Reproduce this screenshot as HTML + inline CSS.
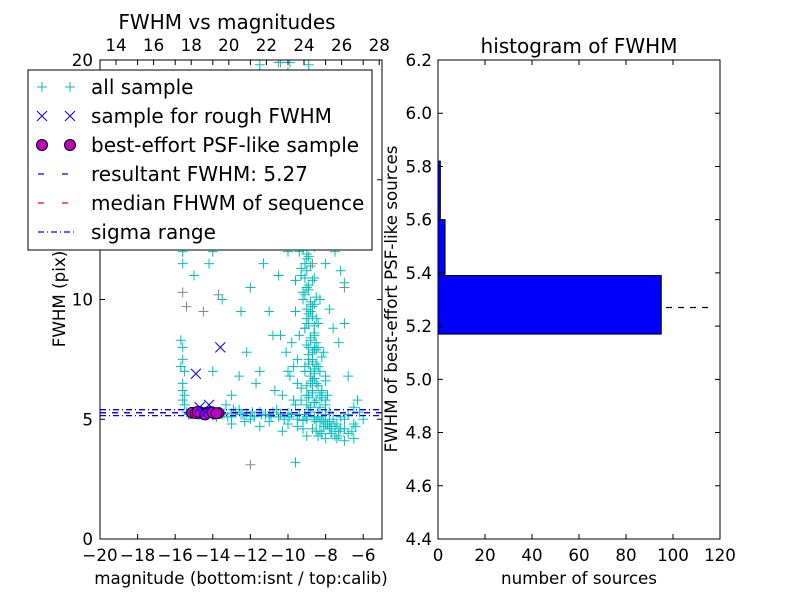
<!DOCTYPE html>
<html><head><meta charset="utf-8"><style>
body{margin:0;background:#fff;width:800px;height:600px;overflow:hidden}
text{font-family:"DejaVu Sans","Liberation Sans",sans-serif;fill:#000}
</style></head><body>
<svg id="c" width="800" height="600">
<rect x="0" y="0" width="800" height="600" fill="#fff"/>
<g id="left"></g>
<g id="right"></g>
</svg>
<script>
// ---- data: left scatter ----
const allMag=[-13.5,-13,-12.5,-12,-11.5,-11,-10.5,-10,-9.5,-9,-8.5,-8,-7.5,-7,-6.5,-13.2,-12.8,-12.2,-11.8,-11.2,-10.8,-10.2,-9.8,-9.2,-8.8,-8.2,-7.8,-7.2,-6.8,-6.2,-10,-11,-12,-9.5,-8.7,-8.3,-7.7,-9,-10.6,-12.6,-14,-14.5,-15,-15.3,-13.8,-9.6,-8.6,-7.4,-6.6,-6,
-9,-8.8,-9.1,-8.7,-8.9,-8.6,-9,-8.8,-9.2,-9,-9.3,-9.1,-9.4,-9.2,-9.5,-9.3,-9.4,-9.6,-9.7,-8.5,-8.2,-8,-8.4,-8.1,-8.3,-7.9,-8.6,-9.3,-9.5,-9.4,-8.5,-8.3,-8.7,-8.9,-8.6,-9.6,-9.8,-10,-10.3,-9.7,-8.9,-9.1,-8.8,-9,-8.7,-9.2,-8.9,-9.0,-8.6,-9.1,
-15.6,-15.6,-15.5,-15.6,-15.6,-15.7,-15.6,-15.5,-15.6,-15.6,-15.5,-15.6,-15.7,-15.5,
-15,-14.6,-14.2,-14,-13.5,-12.5,-12,-11.3,-11,-10.8,-10.5,-12.2,-11.5,-10.7,-13,-14,-12.6,-11.7,-7.3,-7,-6.8,-6.5,-7.5,-7,-7.8,-8,-10.2,-12.3,-11,-14.5,-15.3,-9.7,-9.5,-8.6,-10,-11.5,-9.9,-10.4,-8.9,-9.6,-6.3,-7.2,-9.6,-8.0,-13.3,-12.9];
const allFwhm=[5.2,5.25,5.2,5.15,5.3,5.2,5.1,5.25,5.0,5.1,4.9,4.8,4.7,4.6,4.8,5.1,5.3,5.25,5.1,5.15,5.3,5.0,5.2,4.95,5.3,5.0,4.9,5.1,5.2,5.3,4.8,4.9,5.0,4.7,4.6,4.5,4.4,4.3,5.4,5.4,5.2,5.3,5.25,5.2,5.1,5.6,5.7,4.2,4.5,5.0,
6,6.5,7,7.5,8,8.5,9,9.5,10,10.5,11,11.5,12,12.5,13,13.5,14,15,16,5.8,6.2,6.8,7.2,7.8,5.5,6,6.9,6.3,7.5,8.5,9.2,10,10.8,11.8,12.2,9.5,8.2,7,6,5.8,7.3,8.8,9.8,11.2,6.6,13.0,14.5,5.6,8.0,10.2,
6.2,6.5,7,7.5,8,8.3,5.8,5.6,11.5,12,13,12.5,7.2,6.0,
11,12.8,11.5,12,10,9.5,10.5,11.5,9.5,8.5,11,7.8,7,6.2,6,7,6.8,6.5,8.2,9,6.8,5.5,12,10.7,13,14.5,13.5,14.5,15,15,16,17,18.2,19,19.5,19.8,19.9,19.9,19.8,17.5,5.8,11.2,3.2,4.2,5.6,5.4];
const plumeMag=[-8.9,-8.7,-9.0,-8.6,-8.8,-9.1,-8.7,-8.9,-8.5,-9.0,-8.8,-8.6,-9.1,-8.9,-8.7,-9.0,-8.8,-9.2,-8.9,-9.1,-9.3,-9.0,-9.2,-9.4,-9.3,-9.5,-9.6,-9.4,-9.8,-9.5,-8.4,-8.3,-8.2,-8.5,-8.4,-8.6,-8.2,-8.0,-7.8,-7.6,-7.4,-7.2,-7.5,-7.7,-8.1,-8.4,-9.3,-9.5,-9.7,-9.9,-10.1,-10.4,-9.6,-10,-10.5,-9.9,-10.2,-9.7,-9.3,-8.7,-8.3,-8.0,-7.8,-7.6,
-15.4,-15.2,-14.0,-13.6,-13.4,-13.0,-12.4,-11.9,-11.4,-10.9,-10.4,-9.9,-9.4,-9.0,-8.6,-8.0,-7.0,-6.4,-6.8,-7.3,-7.0,-6.5,-8.4,-9.2,-10.3,-11.5,-12.3,-13,
-8.8,-8.6,-8.9,-8.7,-8.5,-8.8,-8.6,-8.9,-8.7,-8.4,-8.8,-8.6,-9.0,-8.7,-8.5,-8.9,-8.6,-8.3,-8.8,-9.0,-8.7,-8.5,-8.9,-9.1,-8.6,-8.4,-8.2,-8.0,-8.3,-7.9,-7.7,-8.1,-8.5,-8.2,-7.8,-7.5,-7.3,-8.0,-8.6,-8.9];
const plumeFwhm=[5.9,6.1,6.4,6.7,7.0,7.2,7.4,7.7,7.9,8.1,8.3,8.6,8.8,9.0,9.3,9.6,9.9,10.3,10.6,10.9,11.3,11.7,12.1,12.8,13.2,13.8,14.3,15.2,16.5,17.8,6.4,7.0,7.6,8.2,9.0,9.8,5.9,5.6,5.3,5.0,4.8,4.6,4.5,4.7,4.9,5.1,5.8,6.5,7.2,6.8,7.8,8.5,10.8,12,13,14.8,16,18.6,19.3,14,12.8,11.5,9.6,8.8,
5.3,5.2,5.15,5.3,5.25,5.1,5.2,5.3,5.2,5.1,5.2,5.1,5.2,5.0,5.1,5.2,5.0,4.7,4.4,4.3,4.1,4.2,4.3,4.6,4.5,4.7,4.9,4.8,
5.5,5.7,6.0,6.2,6.5,6.8,7.1,7.5,7.8,8.0,8.4,8.9,9.2,9.7,10.1,10.4,10.9,6.0,11.4,11.9,12.4,7.3,5.4,5.2,5.0,5.3,6.1,5.8,4.9,4.8,4.6,4.7,4.5,4.4,4.6,4.3,4.5,6.6,7.9,9.4];
const grayMag=[-12,-15.6,-15.4,-14.5,-8.7,-10.5,-7,-14.8,-13.7,-9.9];
const grayFwhm=[3.1,10.3,9.7,9.5,11.5,19.9,10.5,5.3,10.2,12.6];
const roughMag=[-14.9,-13.6,-14.7,-14.2,-14.5];
const roughFwhm=[6.9,8.0,5.5,5.6,5.2];
const bestMag=[-15.1,-14.9,-14.7,-14.5,-14.3,-14.1,-13.9,-13.7,-14.8,-14.4,-14.0,-13.8];
const bestFwhm=[5.27,5.25,5.3,5.22,5.28,5.3,5.24,5.26,5.31,5.2,5.28,5.25];
const resultFwhm=5.27, medianFwhm=5.27, sigmaLo=5.15, sigmaHi=5.4;
const xTicksBottom=[-20,-18,-16,-14,-12,-10,-8,-6];
const xTicksTop=[14,16,18,20,22,24,26,28];
const yTicksLeft=[0,5,10,15,20];
// ---- data: right histogram ----
const binEdges=[5.17,5.39,5.6,5.82];
const binCounts=[95,3,1];
const lineExtent=115;
const xTicksRight=[0,20,40,60,80,100,120];
const yTicksRight=[4.4,4.6,4.8,5.0,5.2,5.4,5.6,5.8,6.0,6.2];

const NS='http://www.w3.org/2000/svg';
const FS=16.7, FT=20;
function mk(p,t,a,txt){const e=document.createElementNS(NS,t);for(const k in a)e.setAttribute(k,a[k]);if(txt!==undefined)e.textContent=txt;p.appendChild(e);return e;}
const L=document.getElementById('left'),R=document.getElementById('right');
const lx0=100,lx1=382,ly0=60,ly1=539;
const xs=m=>lx0+(m+20)/15*(lx1-lx0);
const xt=v=>116+(v-14)*18.8;
const ys=f=>ly1-f/20*(ly1-ly0);
const cp=mk(L,'clipPath',{id:'clipL'});
mk(cp,'rect',{x:lx0,y:ly0,width:lx1-lx0,height:ly1-ly0});
const pl=mk(L,'g',{'clip-path':'url(#clipL)'});


function plus(g,x,y,c){mk(g,'path',{d:'M'+(x-5)+','+y+'h10M'+x+','+(y-5)+'v10',stroke:c,'stroke-width':1});}
function cross(g,x,y,c){mk(g,'path',{d:'M'+(x-5)+','+(y-5)+'l10,10M'+(x-5)+','+(y+5)+'l10,-10',stroke:c,'stroke-width':1});}
grayMag.forEach((m,i)=>{const g=mk(pl,'g',{});


plus(g,xs(m),ys(grayFwhm[i]),'#888');});
allMag.forEach((m,i)=>{const g=mk(pl,'g',{});


plus(g,xs(m),ys(allFwhm[i]),'#00bfbf');});
plumeMag.forEach((m,i)=>{const g=mk(pl,'g',{});


plus(g,xs(m),ys(plumeFwhm[i]),'#00bfbf');});
function hline(f,c,dash,name){const l=mk(pl,'line',{x1:lx0,x2:lx1,y1:ys(f),y2:ys(f),stroke:c,'stroke-width':1.3,'stroke-dasharray':dash});

}
hline(sigmaLo,'#0000ff','6,3,1,3','sigma-low-line');
hline(sigmaHi,'#0000ff','6,3,1,3','sigma-high-line');
hline(medianFwhm,'#ff0000','6,6','median-line');
hline(resultFwhm,'#0000ff','6,6','resultant-line');
bestMag.forEach((m,i)=>{const c=mk(pl,'circle',{cx:xs(m),cy:ys(bestFwhm[i]),r:5.5,fill:'#bf00bf',stroke:'#000','stroke-width':0.8});

});
roughMag.forEach((m,i)=>{const g=mk(pl,'g',{});


cross(g,xs(m),ys(roughFwhm[i]),'#0000ff');});
const fr=mk(L,'rect',{x:lx0,y:ly0,width:lx1-lx0,height:ly1-ly0,fill:'none',stroke:'#000','stroke-width':1});


xTicksBottom.forEach(v=>{const x=xs(v);mk(L,'path',{d:'M'+x+','+ly1+'v-5M'+x+','+ly0+'v5',stroke:'#000'});
const t=mk(L,'text',{x:x,y:ly1+22,'text-anchor':'middle','font-size':FS},'\u2212'+Math.abs(v));

});
xTicksTop.forEach(v=>{const x=xt(v);mk(L,'path',{d:'M'+x+','+ly0+'v5',stroke:'#000'});
const t=mk(L,'text',{x:x,y:ly0-9,'text-anchor':'middle','font-size':FS},v);

});
yTicksLeft.forEach(v=>{const y=ys(v);mk(L,'path',{d:'M'+lx0+','+y+'h5M'+lx1+','+y+'h-5',stroke:'#000'});
const t=mk(L,'text',{x:lx0-7,y:y+6,'text-anchor':'end','font-size':FS},v);

});
const lg=mk(L,'g',{});


mk(lg,'rect',{x:28,y:70,width:344,height:180,fill:'#fff',stroke:'#000','stroke-width':1});
const labels=['all sample','sample for rough FWHM','best-effort PSF-like sample','resultant FWHM: 5.27','median FHWM of sequence','sigma range'];
labels.forEach((s,i)=>{const y=87+i*29;const g=mk(lg,'g',{});


 if(i==0){plus(g,42,y,'#00bfbf');plus(g,70,y,'#00bfbf');}
 if(i==1){cross(g,42,y,'#0000ff');cross(g,70,y,'#0000ff');}
 if(i==2){[42,70].forEach(x=>mk(g,'circle',{cx:x,cy:y,r:5.5,fill:'#bf00bf',stroke:'#000'}));}
 if(i==3)mk(g,'line',{x1:38,x2:74,y1:y,y2:y,stroke:'#0000ff','stroke-dasharray':'6,18','stroke-width':1.3});
 if(i==4)mk(g,'line',{x1:38,x2:74,y1:y,y2:y,stroke:'#ff0000','stroke-dasharray':'6,18','stroke-width':1.3});
 if(i==5)mk(g,'line',{x1:38,x2:74,y1:y,y2:y,stroke:'#0000ff','stroke-dasharray':'6,3,1,3','stroke-width':1.3});
 mk(g,'text',{x:91,y:y+7,'font-size':FT},s);});
let t=mk(L,'text',{x:227,y:29,'text-anchor':'middle','font-size':FT},'FWHM vs magnitudes');


t=mk(L,'text',{x:241,y:584,'text-anchor':'middle','font-size':FS},'magnitude (bottom:isnt / top:calib)');


t=mk(L,'text',{x:0,y:0,'text-anchor':'middle','font-size':FS,transform:'translate(65,299) rotate(-90)'},'FWHM (pix)');


const rx0=438,rx1=720,ry0=60,ry1=539;
const hx=v=>rx0+v/120*(rx1-rx0);
const hy=v=>ry1-(v-4.4)/1.8*(ry1-ry0);
const dl=mk(R,'line',{x1:rx0,x2:hx(lineExtent),y1:hy(resultFwhm),y2:hy(resultFwhm),stroke:'#000','stroke-dasharray':'6,6','stroke-width':1.2});


binCounts.forEach((c,i)=>{const r=mk(R,'rect',{x:rx0,y:hy(binEdges[i+1]),width:hx(c)-rx0,height:hy(binEdges[i])-hy(binEdges[i+1]),fill:'#0000ff',stroke:'#000','stroke-width':1});

});
const fr2=mk(R,'rect',{x:rx0,y:ry0,width:rx1-rx0,height:ry1-ry0,fill:'none',stroke:'#000'});


xTicksRight.forEach(v=>{const x=hx(v);mk(R,'path',{d:'M'+x+','+ry1+'v-5M'+x+','+ry0+'v5',stroke:'#000'});
const t=mk(R,'text',{x:x,y:ry1+22,'text-anchor':'middle','font-size':FS},v);

});
yTicksRight.forEach(v=>{const y=hy(v);mk(R,'path',{d:'M'+rx0+','+y+'h5M'+rx1+','+y+'h-5',stroke:'#000'});
const t=mk(R,'text',{x:rx0-6,y:y+6,'text-anchor':'end','font-size':FS},v.toFixed(1));

});
t=mk(R,'text',{x:579,y:53,'text-anchor':'middle','font-size':FT},'histogram of FWHM');


t=mk(R,'text',{x:579,y:584,'text-anchor':'middle','font-size':FS},'number of sources');


t=mk(R,'text',{x:0,y:0,'text-anchor':'middle','font-size':FS,transform:'translate(397,299) rotate(-90)'},'FWHM of best-effort PSF-like sources');


</script>
</body></html>
